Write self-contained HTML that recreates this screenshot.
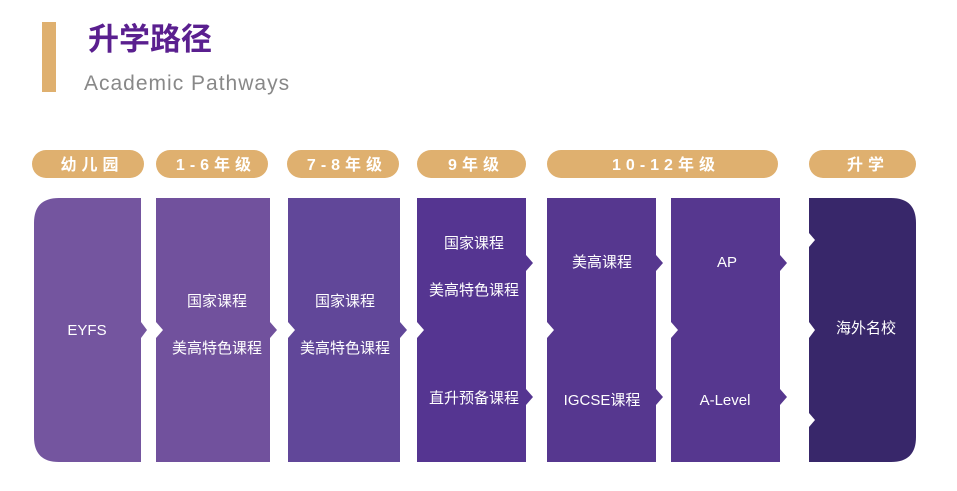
<!DOCTYPE html>
<html><head><meta charset="utf-8"><style>
html,body{margin:0;padding:0;background:#fff;width:957px;height:491px;overflow:hidden}
svg{display:block}
text{font-family:"Liberation Sans","Noto Sans CJK SC",sans-serif}
</style></head><body>
<svg width="957" height="491" viewBox="0 0 957 491" xmlns="http://www.w3.org/2000/svg">
<rect x="42" y="22" width="14" height="70" fill="#dfb06f"/>
<text x="88" y="50" font-size="31" font-weight="bold" fill="#5a1f8f">升学路径</text>
<text x="84" y="90" font-size="21" fill="#888" letter-spacing="1">Academic Pathways</text>

<g fill="#dfb06f">
<rect x="32" y="150" width="112" height="28" rx="14"/>
<rect x="156" y="150" width="112" height="28" rx="14"/>
<rect x="287" y="150" width="112" height="28" rx="14"/>
<rect x="417" y="150" width="109" height="28" rx="14"/>
<rect x="547" y="150" width="231" height="28" rx="14"/>
<rect x="809" y="150" width="107" height="28" rx="14"/>
</g>
<g fill="#fff" font-size="16" font-weight="bold" text-anchor="middle" letter-spacing="5">
<text x="92" y="170">幼儿园</text>
<text x="216" y="170">1-6年级</text>
<text x="347" y="170">7-8年级</text>
<text x="476" y="170">9年级</text>
<text x="666" y="170">10-12年级</text>
<text x="868" y="170">升学</text>
</g>

<path d="M59,198 H141 V322 L147,330 L141,338 V462 H59 Q34,462 34,437 V223 Q34,198 59,198 Z" fill="#74559f"/>
<path d="M156,198 H270 V322 L277,330 L270,338 V462 H156 V338 L163,330 L156,322 Z" fill="#71519d"/>
<path d="M288,198 H400 V322 L407,330 L400,338 V462 H288 V338 L295,330 L288,322 Z" fill="#614799"/>
<path d="M417,198 H526 V255 L533,263 L526,271 V389 L533,397 L526,405 V462 H417 V338 L424,330 L417,322 Z" fill="#553591"/>
<path d="M547,198 H656 V255 L663,263 L656,271 V389 L663,397 L656,405 V462 H547 V338 L554,330 L547,322 Z" fill="#56378f"/>
<path d="M671,198 H780 V255 L787,263 L780,271 V389 L787,397 L780,405 V462 H671 V338 L678,330 L671,322 Z" fill="#56378f"/>
<path d="M809,198 H891 Q916,198 916,223 V437 Q916,462 891,462 H809 V427 L815,420 L809,413 V338 L815,330 L809,322 V247 L815,240 L809,233 Z" fill="#38276a"/>

<g fill="#fff" font-size="15" text-anchor="middle">
<text x="87" y="335">EYFS</text>
<text x="217" y="306">国家课程</text>
<text x="217" y="353">美高特色课程</text>
<text x="345" y="306">国家课程</text>
<text x="345" y="353">美高特色课程</text>
<text x="474" y="248">国家课程</text>
<text x="474" y="295">美高特色课程</text>
<text x="474" y="403">直升预备课程</text>
<text x="602" y="267">美高课程</text>
<text x="602" y="405">IGCSE课程</text>
<text x="727" y="267">AP</text>
<text x="725" y="405">A-Level</text>
<text x="866" y="333">海外名校</text>
</g>
</svg>
</body></html>
